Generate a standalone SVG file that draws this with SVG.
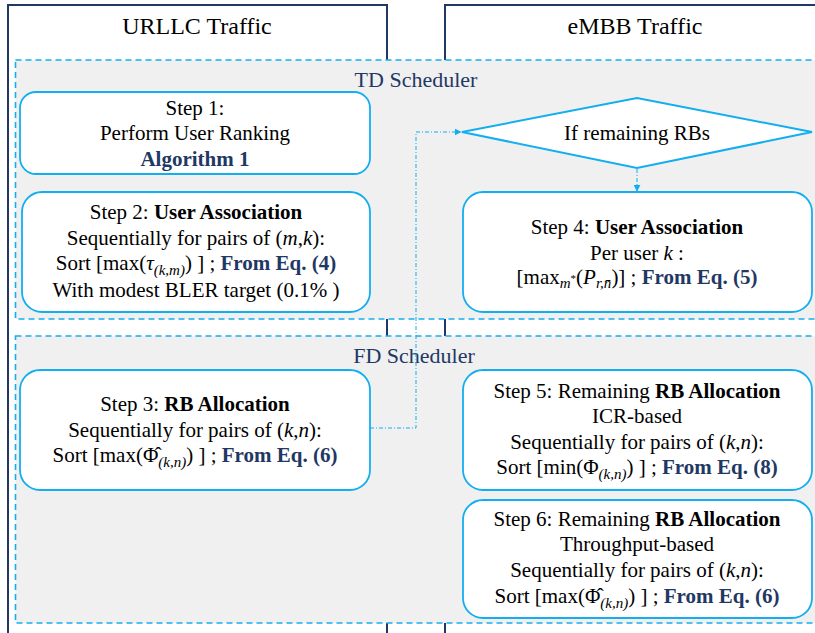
<svg xmlns="http://www.w3.org/2000/svg" width="815" height="633" viewBox="0 0 815 633">
<style>
  .col { fill: #ffffff; stroke: #203864; stroke-width: 2; }
  .sched { fill: #f0f0f0; stroke: #13aef0; stroke-width: 1.6; stroke-dasharray: 6 4; }
  .box { fill: #ffffff; stroke: #13aef0; stroke-width: 1.8; }
  text { font-family: 'Liberation Serif', 'Tinos', 'DejaVu Serif', serif; }
  .t { font-size: 21px; fill: #000000; text-anchor: middle; }
  .title { font-size: 24px; fill: #000000; text-anchor: middle; }
  .slabel { font-size: 22px; fill: #1f3864; text-anchor: middle; }
  .b { font-weight: bold; }
  .eq { font-weight: bold; fill: #1f3864; }
  .i { font-style: italic; }
  .sub { font-size: 15px; }
  .conn { fill: none; stroke: #13aef0; stroke-width: 1; stroke-dasharray: 4 2 1 2; }
</style>
<defs>
  <marker id="arr" viewBox="0 0 10 10" refX="9" refY="5" markerWidth="7" markerHeight="7" orient="auto" markerUnits="userSpaceOnUse">
    <path d="M0,0 L10,5 L0,10 z" fill="#13aef0"/>
  </marker>
</defs>
<rect width="815" height="633" fill="#ffffff"/>

<g id="urllc-column">
  <rect class="col" x="8" y="5" width="379" height="650"/>
  <text class="title" x="197" y="34" font-family="Liberation Serif, serif">URLLC Traffic</text>
</g>
<g id="embb-column">
  <rect class="col" x="445" y="5" width="400" height="650"/>
  <text class="title" x="635" y="34">eMBB Traffic</text>
</g>

<g id="td-scheduler">
  <rect class="sched" x="15.5" y="60" width="820" height="259"/>
  <text class="slabel" x="416" y="87">TD Scheduler</text>
</g>
<g id="fd-scheduler">
  <rect class="sched" x="15.5" y="336" width="820" height="287"/>
  <text class="slabel" x="414" y="363">FD Scheduler</text>
</g>

<g id="connectors">
  <polyline class="conn" points="370,428 416,428 416,132 461,132" marker-end="url(#arr)"/>
  <line class="conn" x1="637" y1="169" x2="637" y2="191" marker-end="url(#arr)"/>
</g>

<g id="step1">
  <rect class="box" x="20" y="92" width="350" height="82" rx="16"/>
  <text class="t" x="195" y="115">Step 1:</text>
  <text class="t" x="195" y="140">Perform User Ranking</text>
  <text class="t eq" x="195" y="166">Algorithm 1</text>
</g>

<g id="step2">
  <rect class="box" x="22" y="192" width="348" height="120" rx="20"/>
  <text class="t" x="196" y="219">Step 2: <tspan class="b">User Association</tspan></text>
  <text class="t" x="196" y="245">Sequentially for pairs of (<tspan class="i">m</tspan>,<tspan class="i">k</tspan>):</text>
  <text class="t" x="196" y="270">Sort [max(<tspan class="i">τ</tspan><tspan class="sub i" dy="5">(k,m)</tspan><tspan dy="-5">) ] ; </tspan><tspan class="eq">From Eq. (4)</tspan></text>
  <text class="t" x="196" y="297">With modest BLER target (0.1% )</text>
</g>

<g id="decision">
  <polygon points="462,132 637,98 812,132 637,168" fill="#ffffff" stroke="#13aef0" stroke-width="2"/>
  <text class="t" x="637" y="140">If remaining RBs</text>
</g>

<g id="step4">
  <rect class="box" x="463" y="192" width="349" height="120" rx="20"/>
  <text class="t" x="637" y="234">Step 4: <tspan class="b">User Association</tspan></text>
  <text class="t" x="637" y="260">Per user <tspan class="i">k</tspan> :</text>
  <text class="t" x="637" y="284">[max<tspan class="sub i" dy="4">m</tspan><tspan font-size="11" dy="-6">*</tspan><tspan dy="2">(</tspan><tspan class="i">P</tspan><tspan class="sub i" dy="4">r,n̄</tspan><tspan dy="-4">)] ; </tspan><tspan class="eq">From Eq. (5)</tspan></text>
</g>

<g id="step3">
  <rect class="box" x="20" y="370" width="350" height="120" rx="20"/>
  <text class="t" x="195" y="411">Step 3: <tspan class="b">RB Allocation</tspan></text>
  <text class="t" x="195" y="437">Sequentially for pairs of (<tspan class="i">k</tspan>,<tspan class="i">n</tspan>):</text>
  <text class="t" x="195" y="462">Sort [max(Φ̂<tspan class="sub i" dy="5">(k,n)</tspan><tspan dy="-5">) ] ; </tspan><tspan class="eq">From Eq. (6)</tspan></text>
</g>

<g id="step5">
  <rect class="box" x="463" y="370" width="349" height="120" rx="20"/>
  <text class="t" x="637" y="398">Step 5: Remaining <tspan class="b">RB Allocation</tspan></text>
  <text class="t" x="637" y="423">ICR-based</text>
  <text class="t" x="637" y="449">Sequentially for pairs of (<tspan class="i">k</tspan>,<tspan class="i">n</tspan>):</text>
  <text class="t" x="637" y="474">Sort [min(Φ<tspan class="sub i" dy="5">(k,n)</tspan><tspan dy="-5">) ] ; </tspan><tspan class="eq">From Eq. (8)</tspan></text>
</g>

<g id="step6">
  <rect class="box" x="463" y="500" width="349" height="118" rx="20"/>
  <text class="t" x="637" y="526">Step 6: Remaining <tspan class="b">RB Allocation</tspan></text>
  <text class="t" x="637" y="551">Throughput-based</text>
  <text class="t" x="637" y="577">Sequentially for pairs of (<tspan class="i">k</tspan>,<tspan class="i">n</tspan>):</text>
  <text class="t" x="637" y="603">Sort [max(Φ̂<tspan class="sub i" dy="5">(k,n)</tspan><tspan dy="-5">) ] ; </tspan><tspan class="eq">From Eq. (6)</tspan></text>
</g>
</svg>
